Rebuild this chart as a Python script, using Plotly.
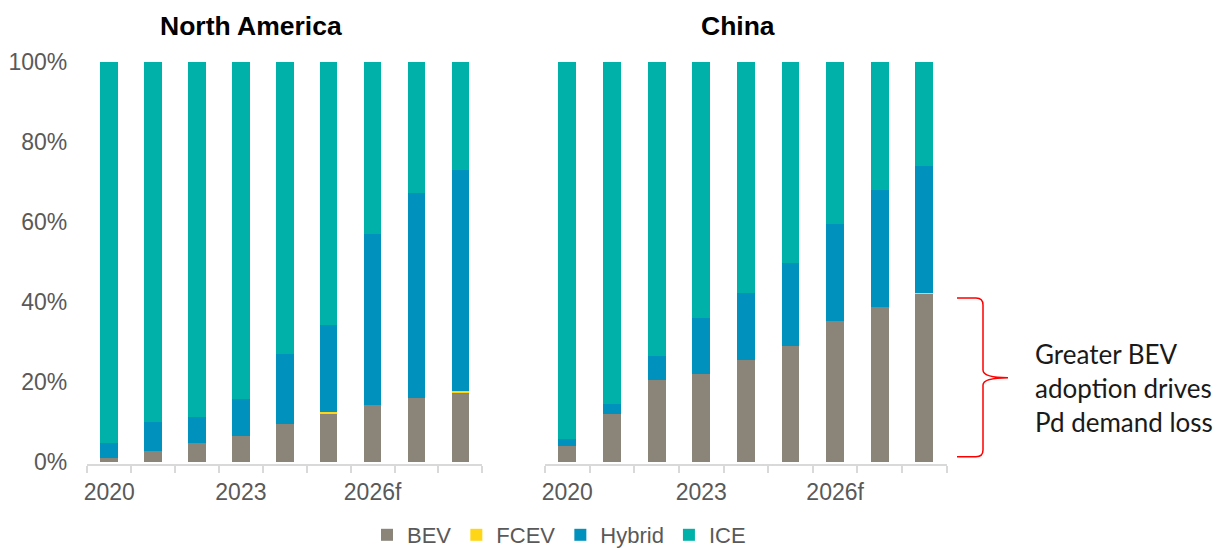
import plotly.graph_objects as go

W, H = 1231, 548

# Powertrain share of light-vehicle sales (%), 2020-2028 (2026 onward forecast)
years = [2020, 2021, 2022, 2023, 2024, 2025, 2026, 2027, 2028]
tick_years = [2020, 2023, 2026]
tick_labels = ["2020", "2023", "2026f"]

na_bev = [1.0, 2.8, 4.8, 6.4, 9.6, 12.1, 14.3, 16.0, 17.4]
na_fcev = [0.0, 0.0, 0.0, 0.0, 0.0, 0.3, 0.0, 0.0, 0.3]
na_hybrid = [3.8, 7.1, 6.4, 9.3, 17.4, 21.9, 42.8, 51.3, 55.4]
na_ice = [95.2, 90.1, 88.8, 84.3, 73.0, 65.7, 42.9, 32.7, 26.9]

cn_bev = [4.1, 11.9, 20.6, 22.1, 25.4, 29.0, 35.3, 38.8, 42.0]
cn_fcev = [0.0, 0.0, 0.0, 0.0, 0.0, 0.0, 0.0, 0.0, 0.3]
cn_hybrid = [1.7, 2.6, 6.0, 13.9, 16.9, 20.7, 24.3, 29.2, 31.7]
cn_ice = [94.2, 85.5, 73.4, 64.0, 57.7, 50.3, 40.4, 32.0, 26.0]

series_names = ["BEV", "FCEV", "Hybrid", "ICE"]
colors = {"BEV": "#8b8479", "FCEV": "#ffd617", "Hybrid": "#0091bd", "ICE": "#00b1a9"}

regions = [
    ("x", "y", {"BEV": na_bev, "FCEV": na_fcev, "Hybrid": na_hybrid, "ICE": na_ice}),
    ("x2", "y2", {"BEV": cn_bev, "FCEV": cn_fcev, "Hybrid": cn_hybrid, "ICE": cn_ice}),
]

TICK_FONT = dict(family="Liberation Sans, Arial, sans-serif", size=23, color="#595959")
LEGEND_FONT = dict(family="Liberation Sans, Arial, sans-serif", size=22, color="#595959")


def px_x(x):
    return x / W


def px_y(y):
    return 1 - y / H


fig = go.Figure()
for i, (xa, ya, data) in enumerate(regions):
    for name in series_names:
        fig.add_trace(go.Bar(
            x=years, y=data[name], name=name,
            marker=dict(color=colors[name], line=dict(width=0)),
            width=0.4, xaxis=xa, yaxis=ya,
            legendgroup=name, showlegend=(i == 0),
        ))

y_domain = [px_y(464), px_y(62)]

xaxis_common = dict(
    range=[2019.5, 2028.5],
    tickmode="array", tickvals=tick_years, ticktext=tick_labels,
    ticks="", showline=True, linecolor="#d9d9d9", linewidth=2,
    showgrid=False, zeroline=False, tickfont=TICK_FONT, ticklabelstandoff=6,
    minor=dict(tickmode="linear", tick0=2019.5, dtick=1, ticks="outside",
               ticklen=7, tickwidth=2, tickcolor="#d9d9d9", showgrid=False),
    fixedrange=True,
)
yaxis_common = dict(
    range=[-0.5, 100], domain=y_domain,
    tickmode="array", tickvals=[0, 20, 40, 60, 80, 100],
    ticktext=["0%", "20%", "40%", "60%", "80%", "100%"],
    showgrid=False, zeroline=False, showline=False, ticks="",
    tickfont=TICK_FONT, fixedrange=True,
)

fig.update_layout(
    width=W, height=H, autosize=False,
    margin=dict(l=0, r=0, t=0, b=0, autoexpand=False),
    paper_bgcolor="white", plot_bgcolor="white",
    barmode="stack",
    xaxis=dict(xaxis_common, domain=[px_x(87.3), px_x(482.3)], anchor="y"),
    xaxis2=dict(xaxis_common, domain=[px_x(545), px_x(946.7)], anchor="y2"),
    yaxis=dict(yaxis_common, anchor="x", ticklabelstandoff=19),
    yaxis2=dict(yaxis_common, anchor="x2", showticklabels=False),
    legend=dict(
        orientation="h", x=px_x(559), xanchor="center", y=px_y(514), yanchor="top",
        font=LEGEND_FONT, itemwidth=30, traceorder="normal",
        bgcolor="rgba(0,0,0,0)",
    ),
    showlegend=True,
)

TITLE_FONT = dict(family="Liberation Sans, Arial, sans-serif", size=26.5, color="#000000")
for text, cx in [("<b>North America</b>", 250.8), ("<b>China</b>", 737.5)]:
    fig.add_annotation(
        text=text, xref="paper", yref="paper", x=px_x(cx), y=px_y(26),
        xanchor="center", yanchor="middle", showarrow=False, font=TITLE_FONT,
    )

# Curly bracket marking China's BEV share in the final year
pts = [
    ("M", [(957, 298)]), ("L", [(976, 298)]), ("Q", [(983, 298), (983, 305)]),
    ("L", [(983, 370)]), ("Q", [(983, 377.7), (1008, 377.7)]),
    ("Q", [(983, 377.7), (983, 385)]), ("L", [(983, 450)]),
    ("Q", [(983, 456.7), (976, 456.7)]), ("L", [(957, 456.7)]),
]
path = " ".join(
    cmd + " " + " ".join(f"{px_x(x):.5f},{px_y(y):.5f}" for x, y in coords)
    for cmd, coords in pts
)
fig.add_shape(type="path", path=path, xref="paper", yref="paper",
              line=dict(color="#ff0000", width=1.5))

fig.add_annotation(
    text="Greater BEV<br>adoption drives<br>Pd demand loss",
    xref="paper", yref="paper", x=px_x(1033), y=px_y(388),
    xanchor="left", yanchor="middle", align="left", showarrow=False,
    font=dict(family="Lato, Carlito, Calibri, sans-serif", size=26, color="#1a1a1a"),
)

fig.write_html("out.html")
